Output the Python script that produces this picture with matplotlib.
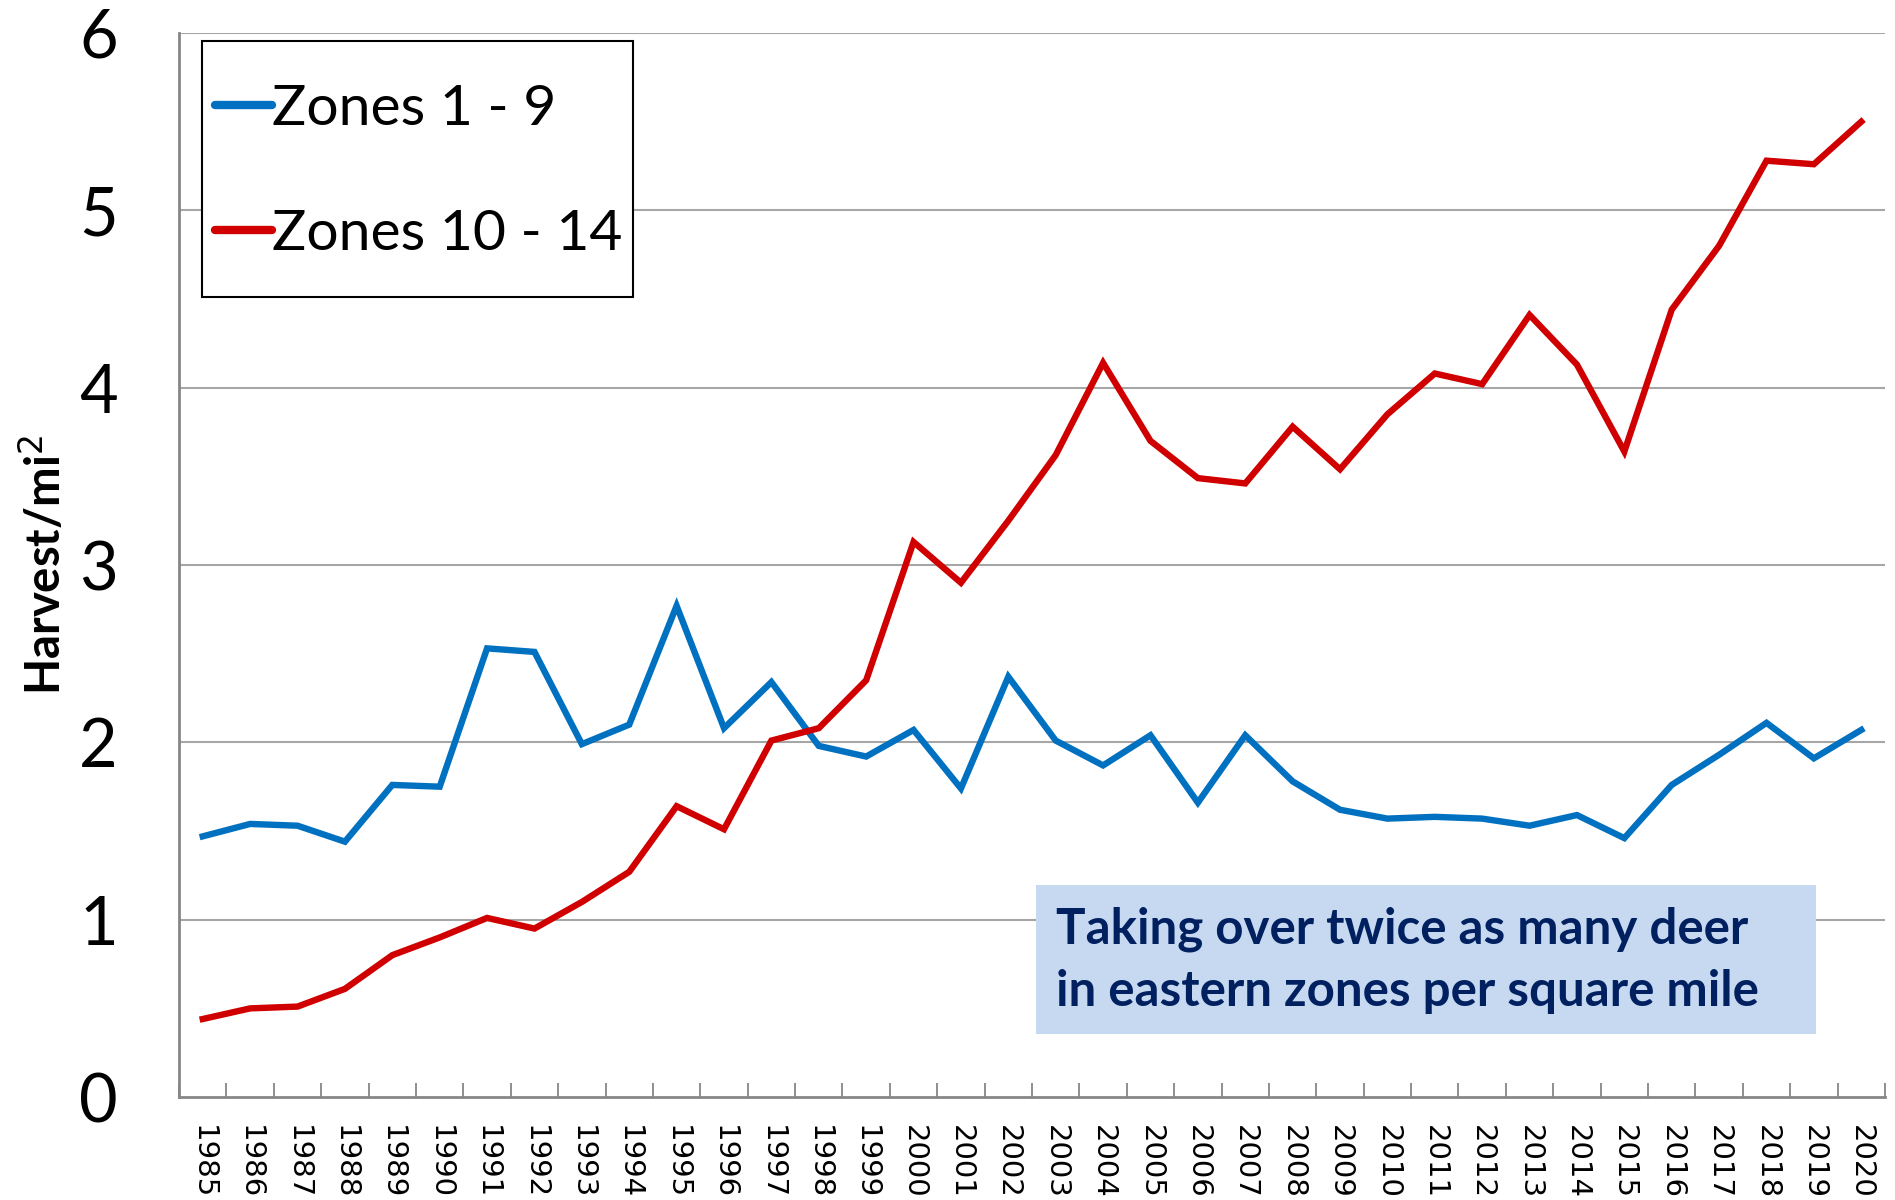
import numpy as np
import matplotlib.pyplot as plt
from matplotlib.patches import Rectangle

years = list(range(1985, 2021))
zones_1_9 = [1.47, 1.54, 1.53, 1.44, 1.76, 1.75, 2.53, 2.51, 1.99, 2.10,
             2.77, 2.08, 2.34, 1.98, 1.92, 2.07, 1.74, 2.37, 2.01, 1.87,
             2.04, 1.66, 2.04, 1.78, 1.62, 1.57, 1.58, 1.57, 1.53, 1.59,
             1.46, 1.76, 1.93, 2.11, 1.91, 2.07]
zones_10_14 = [0.44, 0.50, 0.51, 0.61, 0.80, 0.90, 1.01, 0.95, 1.10, 1.27,
               1.64, 1.51, 2.01, 2.08, 2.35, 3.13, 2.90, 3.25, 3.62, 4.14,
               3.70, 3.49, 3.46, 3.78, 3.54, 3.85, 4.08, 4.02, 4.41, 4.13,
               3.64, 4.44, 4.80, 5.28, 5.26, 5.50]
y_ticks = [0, 1, 2, 3, 4, 5, 6]
note = "Taking over twice as many deer\nin eastern zones per square mile"

plt.rcParams['font.family'] = ['Lato', 'DejaVu Sans']

W, H = 1895, 1200
fig = plt.figure(figsize=(W / 100, H / 100), dpi=100)
ax = fig.add_axes([0.0945, 0.0858, 0.9002, 0.8867])

x = np.arange(len(years))
grid_col = '#A6A6A6'
for v in y_ticks[1:]:
    ax.axhline(v, color=grid_col, lw=1.5, zorder=0)

ax.plot(x, zones_1_9, color='#0070C0', lw=4.6, label='Zones 1 - 9',
        solid_joinstyle='miter', zorder=3)
ax.plot(x, zones_10_14, color='#D00000', lw=4.6, label='Zones 10 - 14',
        solid_joinstyle='miter', zorder=3)

ax.set_xlim(-0.5, len(years) - 0.5)
ax.set_ylim(0, 6)

# year labels at category centres, tick marks between categories
ax.set_xticks(x)
ax.set_xticklabels([str(y) for y in years], rotation=270,
                   family='DejaVu Sans', fontsize=21)
ax.tick_params(axis='x', which='major', length=0, pad=20)
ax.set_xticks(np.arange(-0.5, len(years)), minor=True)
ax.tick_params(axis='x', which='minor', direction='in', length=10,
               width=1.3, color='#868686')

ax.set_yticks(y_ticks)
ax.set_yticklabels([str(v) for v in y_ticks], fontsize=48)
ax.tick_params(axis='y', length=0, pad=44)

for s in ['top', 'right']:
    ax.spines[s].set_visible(False)
for s in ['left', 'bottom']:
    ax.spines[s].set_color('#868686')
    ax.spines[s].set_linewidth(2)

ax.set_ylabel('Harvest/mi$^2$', fontsize=34, fontweight='bold', labelpad=8)

# legend frame drawn separately so the padding can match the original
frame = Rectangle((202 / W, 1 - 297 / H), 431 / W, 256 / H,
                  transform=fig.transFigure, facecolor='white',
                  edgecolor='black', lw=1.5, zorder=4, clip_on=False)
ax.add_patch(frame)
leg = ax.legend(loc='center left', bbox_to_anchor=(215 / W, 1 - 172 / H),
                bbox_transform=fig.transFigure, fontsize=41, frameon=False,
                handlelength=1.0, handletextpad=0.0, borderpad=0,
                labelspacing=1.3, borderaxespad=0)
leg.set_zorder(5)
for h in leg.get_lines():
    h.set_linewidth(6)
    h.set_solid_capstyle('round')

# annotation box
box = Rectangle((1036 / W, 1 - 1034 / H), 780 / W, 149 / H,
                transform=fig.transFigure, facecolor='#C6D9F1',
                edgecolor='none', zorder=5)
fig.patches.append(box)
fig.text(1056 / W, 1 - 960 / H, note, fontsize=35.5, fontweight='bold',
         color='#002060', va='center', ha='left', linespacing=1.45, zorder=6)

fig.savefig('out.png', dpi=100)
